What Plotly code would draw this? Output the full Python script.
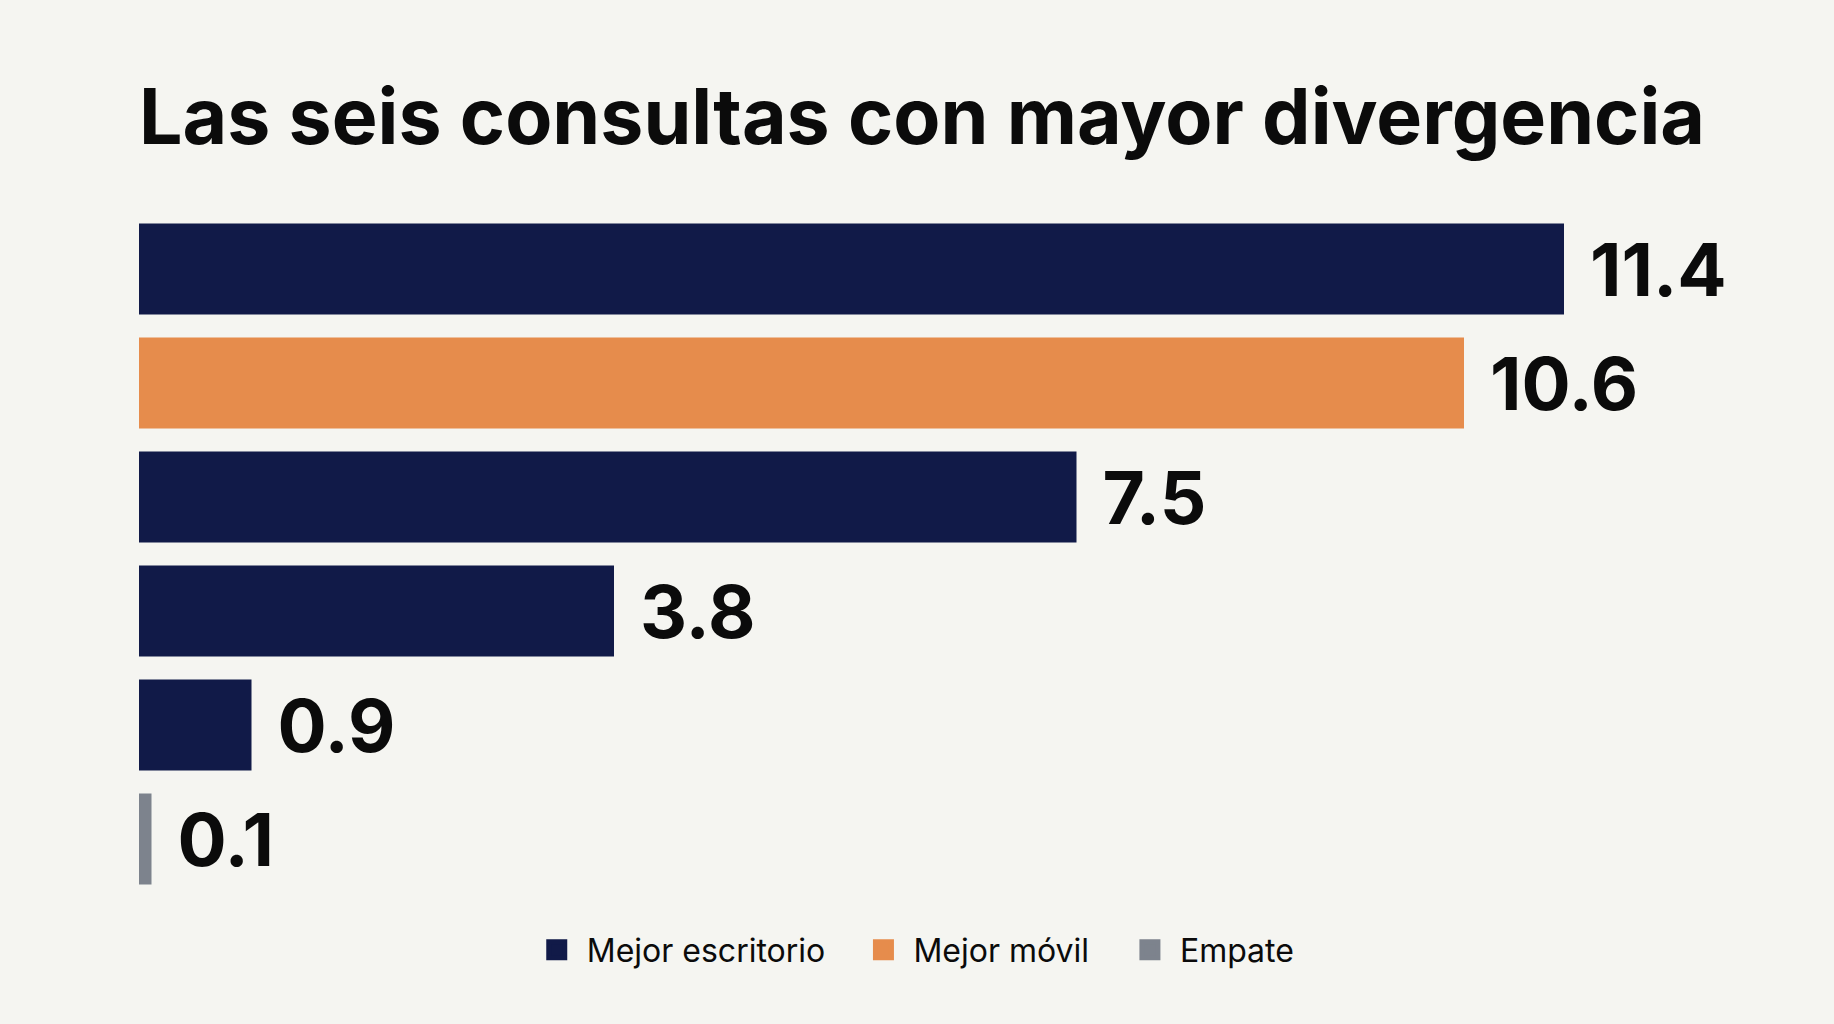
import plotly.graph_objects as go

# Datos (de arriba hacia abajo)
consultas = ["Consulta 1", "Consulta 2", "Consulta 3", "Consulta 4", "Consulta 5", "Consulta 6"]
divergencia = [11.4, 10.6, 7.5, 3.8, 0.9, 0.1]
ganador = ["Mejor escritorio", "Mejor móvil", "Mejor escritorio",
           "Mejor escritorio", "Mejor escritorio", "Empate"]
grupos = ["Mejor escritorio", "Mejor móvil", "Empate"]

_BG = "#f5f5f1"
_INK = "#0b0b0b"
_FONT = "Inter, Roboto, Arial, sans-serif"
_COLORS = {"Mejor escritorio": "#111a48", "Mejor móvil": "#e68c4c", "Empate": "#7d838d"}
_LEGENDS = {"Mejor escritorio": ("legend", 0.235),
            "Mejor móvil": ("legend2", 0.433),
            "Empate": ("legend3", 0.5945)}

fig = go.Figure()
for g in grupos:
    ys = [c for c, w in zip(consultas, ganador) if w == g]
    xs = [v for v, w in zip(divergencia, ganador) if w == g]
    fig.add_trace(go.Bar(
        x=xs, y=ys, orientation="h", name=g, showlegend=False,
        marker=dict(color=_COLORS[g], line=dict(width=0)),
        texttemplate=" \u200a%{x:.1f}", textposition="outside", constraintext="none",
        textfont=dict(size=73, color=_INK, family=_FONT, weight=700),
        cliponaxis=False, hoverinfo="x+y",
    ))

# legend entries: square markers are drawn bigger than the fixed bar icon,
# one legend per group so the spacing can follow the original
legend_layout = {}
for g in grupos:
    key, lx = _LEGENDS[g]
    fig.add_trace(go.Scatter(
        x=[None], y=[None], mode="markers", name=g, legend=key,
        marker=dict(symbol="square", size=16, color=_COLORS[g],
                    line=dict(color=_COLORS[g], width=5)),
    ))
    legend_layout[key] = dict(
        orientation="h", x=lx, xanchor="left", y=-0.079, yanchor="middle",
        font=dict(size=32, color=_INK, family=_FONT), bgcolor="rgba(0,0,0,0)",
        itemsizing="trace", itemwidth=50,
    )

fig.update_layout(
    width=1834, height=1024,
    title=dict(
        text="Las seis consultas con mayor divergencia",
        font=dict(size=77, color=_INK, family=_FONT, weight=700),
        x=0, xref="paper", xanchor="left", y=0.886, yanchor="middle",
    ),
    font=dict(family=_FONT, color=_INK),
    plot_bgcolor=_BG, paper_bgcolor=_BG,
    barmode="overlay", bargap=0.2,
    xaxis=dict(range=[0, 13.2], visible=False),
    yaxis=dict(categoryorder="array", categoryarray=consultas[::-1], visible=False),
    margin=dict(l=139, r=45, t=212, b=128),
    **legend_layout,
)

fig.write_html(
    "out.html",
    config={"displayModeBar": False},
    post_script="document.body.style.margin='0';document.body.style.background='%s';" % _BG,
)
